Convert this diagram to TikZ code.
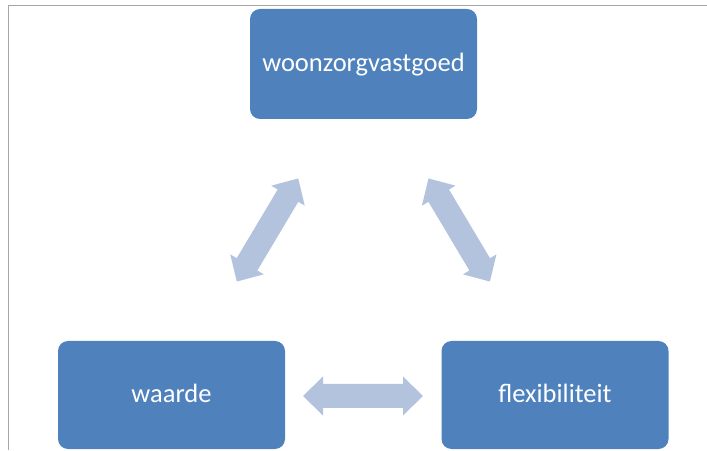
\documentclass[tikz,border=0pt]{standalone}
\usepackage{fontspec}
\setmainfont{Carlito}
\definecolor{boxblue}{HTML}{4F81BD}
\definecolor{arrowblue}{HTML}{B3C3DD}
\definecolor{framegray}{HTML}{A6A6A6}
\tikzset{
  blockbox/.style={fill=boxblue, rounded corners=10pt, minimum width=227pt, minimum height=108pt,
    text=white, font=\fontsize{26.5}{30}\selectfont, inner sep=0pt, text height=18pt, text depth=2pt},
  blockarrow/.style={fill=arrowblue, draw=none}
}
\newcommand{\dblarrow}{(-60,0) -- (-40,19.5) -- (-40,12) -- (40,12) -- (40,19.5) -- (60,0) -- (40,-19.5) -- (40,-12) -- (-40,-12) -- (-40,-19.5) -- cycle}
\begin{document}
\begin{tikzpicture}[x=1pt,y=1pt]
\useasboundingbox (0,0) rectangle (707,450);
\fill[white] (0,0) rectangle (707,450);
\draw[framegray, line width=1pt] (8,0) -- (8,444) -- (707,444);
\node[blockbox, minimum height=110pt] (top) at (363.5,386) {woonzorgvastgoed};
\node[blockbox] (waarde) at (171.5,55) {waarde};
\node[blockbox] (flex) at (555,55) {flexibiliteit};
\begin{scope}[shift={(267.5,220)}, rotate=59.2]
  \fill[blockarrow] \dblarrow;
\end{scope}
\begin{scope}[shift={(459.2,220)}, rotate=-59.2]
  \fill[blockarrow] \dblarrow;
\end{scope}
\begin{scope}[shift={(363,54)}]
  \fill[blockarrow] \dblarrow;
\end{scope}
\end{tikzpicture}
\end{document}
